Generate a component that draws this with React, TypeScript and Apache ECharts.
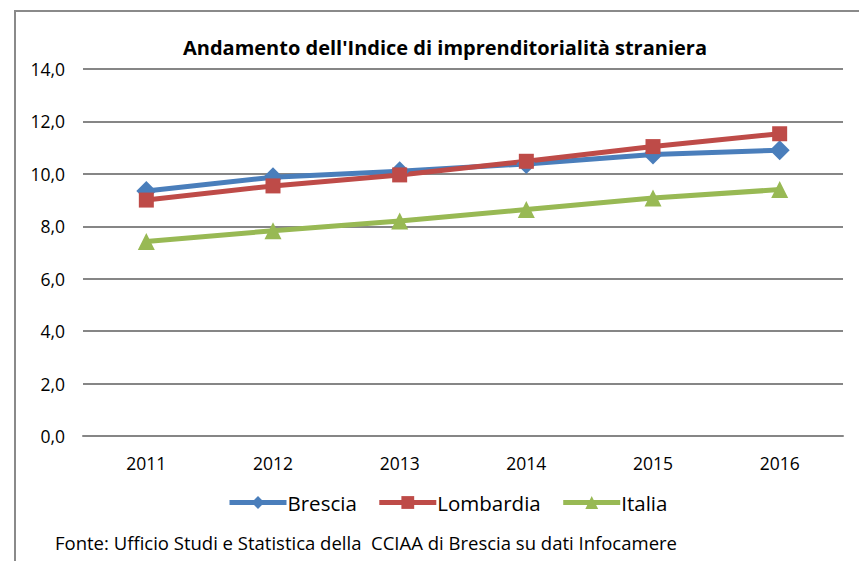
import React, { useEffect, useRef } from "react";
import * as echarts from "echarts";

const years = ["2011", "2012", "2013", "2014", "2015", "2016"];
const brescia = [9.35, 9.87, 10.1, 10.38, 10.74, 10.9];
const lombardia = [9.0, 9.54, 9.96, 10.48, 11.04, 11.53];
const italia = [7.42, 7.83, 8.2, 8.64, 9.08, 9.4];

const FONT = "Open Sans";

export default function App() {
  const ref = useRef<HTMLDivElement>(null);
  useEffect(() => {
    const chart = echarts.init(ref.current!, null, { renderer: "svg" });
    const mkSeries = (name: string, data: number[], color: string, symbol: string, size: number) => ({
      name,
      type: "line",
      data,
      symbol,
      symbolSize: size,
      showSymbol: true,
      lineStyle: { color, width: 5 },
      itemStyle: { color },
    });
    chart.setOption({
      animation: false,
      backgroundColor: "#ffffff",
      title: {
        text: "Andamento dell'Indice di imprenditorialità straniera",
        left: 440,
        top: 32,
        textAlign: "center",
        textStyle: { fontFamily: FONT, fontSize: 20, fontWeight: "bold", color: "#000" },
      },
      grid: { left: 83, right: 16, top: 69, bottom: 125, containLabel: false },
      xAxis: {
        type: "category",
        data: years,
        boundaryGap: true,
        axisLine: { lineStyle: { color: "#868686", width: 2 } },
        axisTick: { show: false },
        axisLabel: { fontFamily: FONT, fontSize: 17.5, color: "#000", margin: 18 },
      },
      yAxis: {
        type: "value",
        min: 0,
        max: 14,
        interval: 2,
        axisLine: { show: false },
        axisTick: { show: false },
        splitLine: { lineStyle: { color: "#868686", width: 2 } },
        axisLabel: {
          fontFamily: FONT,
          fontSize: 17.5,
          color: "#000",
          margin: 18,
          formatter: (v: number) => v.toFixed(1).replace(".", ","),
        },
      },
      legend: {
        bottom: 48,
        left: 227,
        padding: 0,
        itemWidth: 57,
        itemHeight: 16,
        itemGap: 20,
        lineStyle: { width: 5 },
        textStyle: { fontFamily: FONT, fontSize: 20.5, color: "#000", padding: [0, 0, 0, -4] },
        data: ["Brescia", "Lombardia", "Italia"],
      },
      graphic: [
        {
          type: "rect",
          shape: { x: 15, y: 11, width: 900, height: 600 },
          style: { fill: "none", stroke: "#8a8a8a", lineWidth: 2 },
          silent: true,
        },
        {
          type: "text",
          left: 55,
          top: 533,
          style: {
            text: "Fonte: Ufficio Studi e Statistica della  CCIAA di Brescia su dati Infocamere",
            fontFamily: FONT,
            fontSize: 18.5,
            fill: "#000",
          },
        },
      ],
      series: [
        mkSeries("Brescia", brescia, "#4A7EBB", "diamond", 20),
        mkSeries("Lombardia", lombardia, "#BE4B48", "rect", 15),
        mkSeries("Italia", italia, "#98B954", "triangle", 17),
      ],
    });
    return () => chart.dispose();
  }, []);
  return (
    <div
      ref={ref}
      style={{ position: "absolute", left: 0, top: 0, width: 859, height: 561 }}
    />
  );
}
